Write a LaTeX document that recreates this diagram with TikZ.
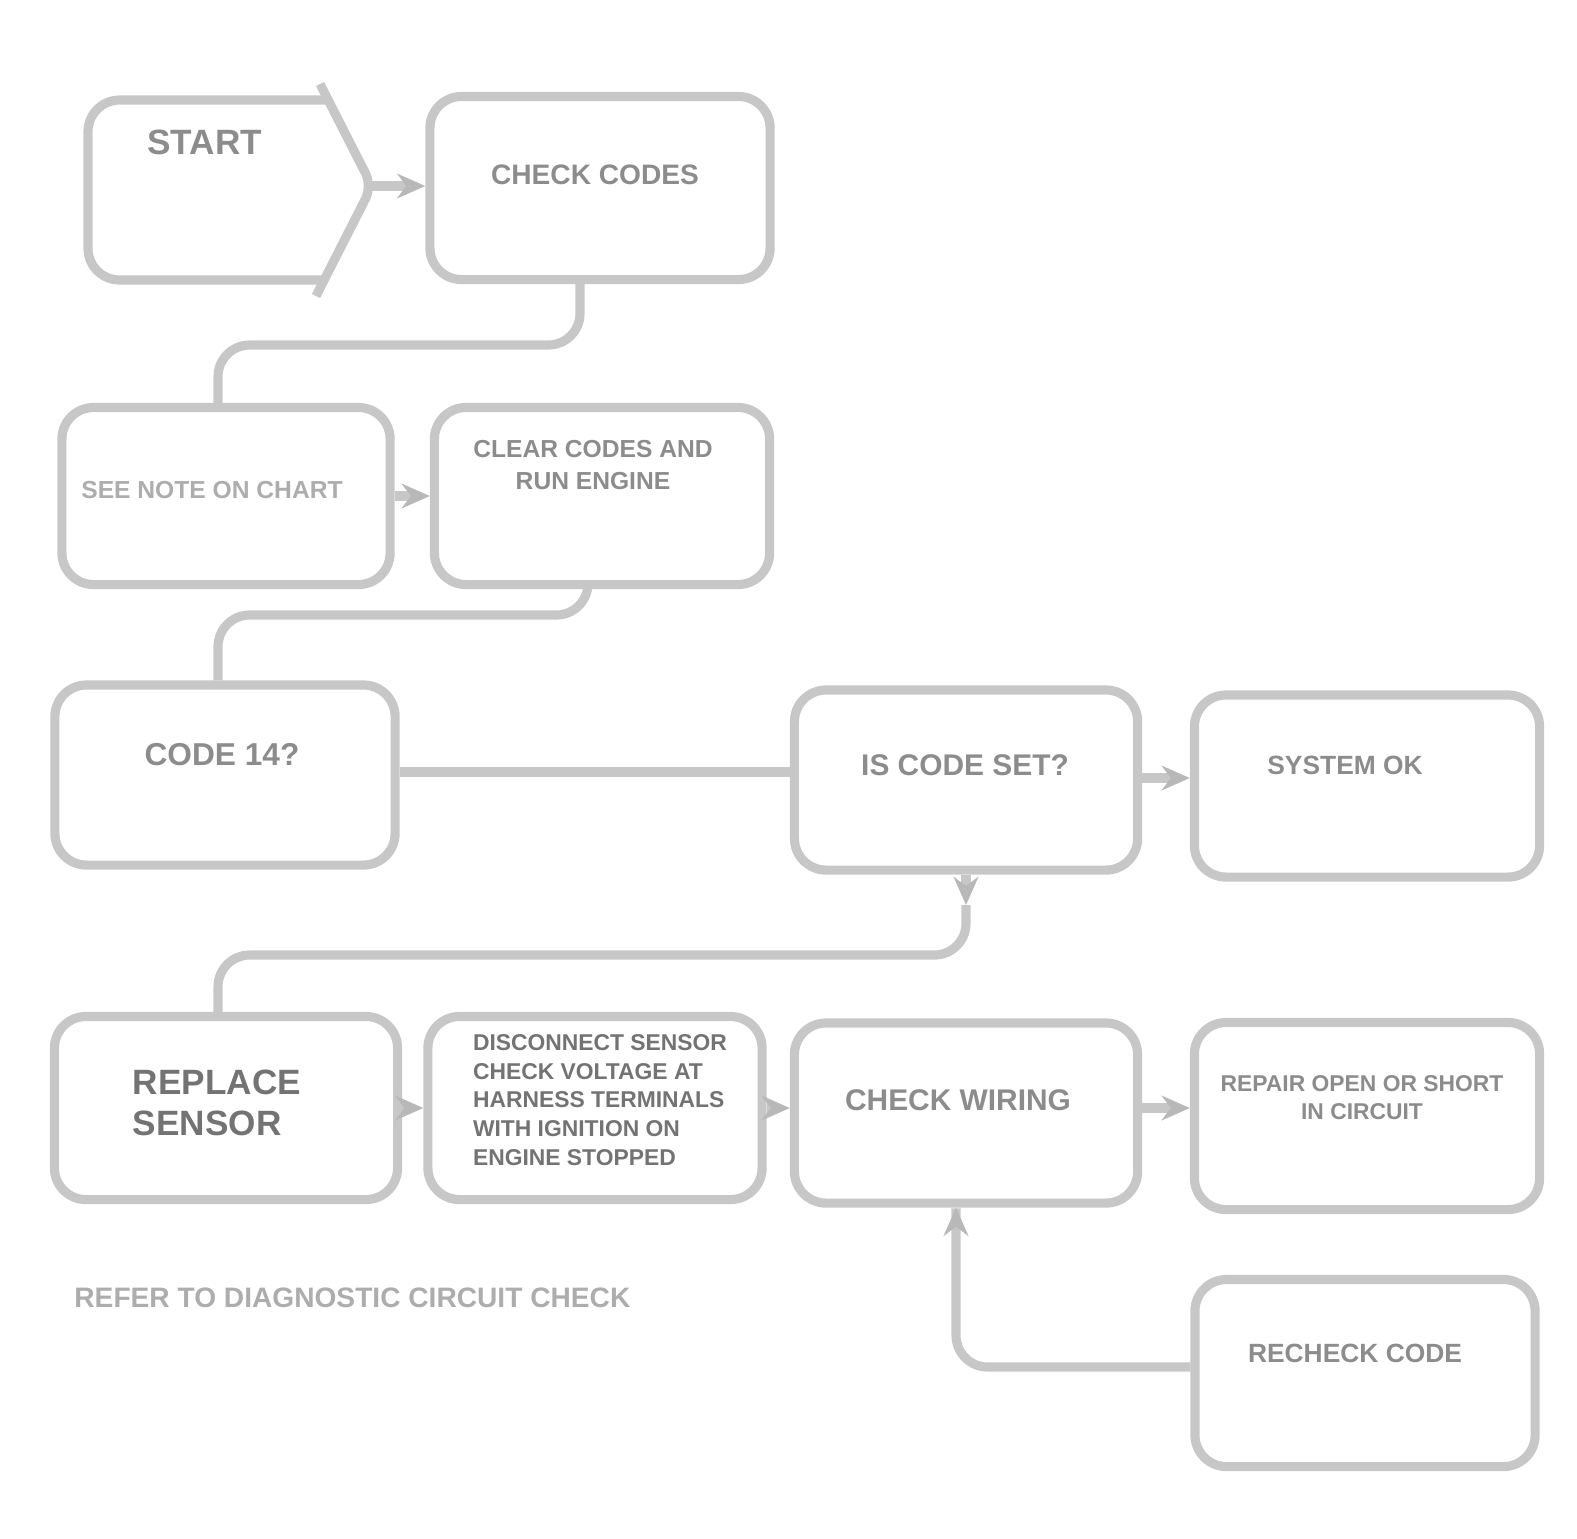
\documentclass[tikz,border=0pt]{standalone}
\usepackage{fontspec}
\setmainfont{Liberation Sans}
\usetikzlibrary{arrows.meta}
\begin{document}
\begin{tikzpicture}[x=0.01cm,y=-0.01cm,
  box/.style={draw=black!22, line width=2.6pt, rounded corners=9pt, inner sep=0pt, minimum width=#1},
  box/.default=3.4cm,
  wire/.style={draw=black!22, line width=2.6pt},
  tip/.style={wire, -{Stealth[length=8pt,width=7pt,black!28]}},
  lbl/.style={text=black!45, font=\bfseries\fontsize{9}{11}\selectfont, align=center},
  dark/.style={text=black!55, font=\bfseries\fontsize{10.5}{12.5}\selectfont, align=left},
  faint/.style={text=black!32, font=\bfseries\fontsize{7}{9}\selectfont}]
\useasboundingbox (0,0) rectangle (1577,1538);
% boxes
\node[inner sep=0pt, minimum width=2.4cm, minimum height=1.8cm] (start) at (210,190) {};
\draw[wire, rounded corners=9pt] (327,100) -- (88,100) -- (88,280) -- (323,280);
\draw[wire, rounded corners=4pt] (320,84) -- (372,186) -- (316,296);
\coordinate (apex) at (372,186);
\node[box=3.4cm, minimum height=1.83cm] (b2) at (600,188) {};
\node[box=3.28cm, minimum height=1.77cm] (r2a) at (226,496) {};
\node[box=3.35cm, minimum height=1.77cm] (r2b) at (602,496) {};
\node[box=3.4cm, minimum height=1.8cm] (r3a) at (225,775) {};
\node[box=3.43cm, minimum height=1.8cm] (r3b) at (966,780) {};
\node[box=3.45cm, minimum height=1.82cm] (r3c) at (1367,786) {};
\node[box=3.43cm, minimum height=1.83cm] (r4a) at (226,1108) {};
\node[box=3.34cm, minimum height=1.83cm] (r4b) at (595,1108) {};
\node[box=3.43cm, minimum height=1.8cm] (r4c) at (966,1113) {};
\node[box=3.45cm, minimum height=1.87cm] (r4d) at (1367,1116) {};
\node[box=3.4cm, minimum height=1.87cm] (r5) at (1365,1373) {};
% labels
\node[lbl, anchor=west, font=\bfseries\fontsize{10}{12}\selectfont] (t1) at (135,142) {START};
\node[lbl, font=\bfseries\fontsize{8}{10}\selectfont] (t2) at (595,175) {CHECK CODES};
\node[faint] (t3) at (212,490) {SEE NOTE ON CHART};
\node[lbl, font=\bfseries\fontsize{7}{9}\selectfont] (t4) at (593,465) {CLEAR CODES AND\\RUN ENGINE};
\node[lbl, font=\bfseries\fontsize{9}{11}\selectfont] (t5) at (222,755) {CODE 14?};
\node[lbl, font=\bfseries\fontsize{8.5}{10}\selectfont] (t6) at (965,765) {IS CODE SET?};
\node[lbl, font=\bfseries\fontsize{7.5}{9}\selectfont] (t7) at (1345,765) {SYSTEM OK};
\node[dark, font=\bfseries\fontsize{10}{11.5}\selectfont] (t8) at (217,1103) {REPLACE\\SENSOR};
\node[dark, font=\bfseries\fontsize{6.5}{8.2}\selectfont] (t9) at (600,1100) {DISCONNECT SENSOR\\CHECK VOLTAGE AT\\HARNESS TERMINALS\\WITH IGNITION ON\\ENGINE STOPPED};
\node[lbl, font=\bfseries\fontsize{8.5}{10}\selectfont] (t10) at (958,1100) {CHECK WIRING};
\node[lbl, font=\bfseries\fontsize{6.5}{8}\selectfont] (t11) at (1362,1098) {REPAIR OPEN OR SHORT\\IN CIRCUIT};
\node[lbl, font=\bfseries\fontsize{7.5}{9}\selectfont] (t12) at (1355,1353) {RECHECK CODE};
\node[faint, anchor=west, font=\bfseries\fontsize{8}{10}\selectfont] (cap) at (62,1298) {REFER TO DIAGNOSTIC CIRCUIT CHECK};
% connectors
\draw[tip] (apex) -- (b2.west |- apex);
\draw[wire, rounded corners=9pt] (b2.south -| 580,0) -- (580,345) -- (218,345) -- (r2a.north -| 218,0);
\draw[tip] (r2a.east) -- (r2b.west);
\draw[wire, rounded corners=9pt] (r2b.south -| 588,0) -- (588,615) -- (218,615) -- (r3a.north -| 218,0);
\draw[wire] (r3a.east |- 0,772) -- (r3b.west |- 0,772);
\draw[tip] (r3b.east |- 0,778) -- (r3c.west |- 0,778);
\coordinate (m1) at (966,905);
\draw[tip] (r3b.south) -- (m1);
\draw[wire, rounded corners=9pt] (m1) -- (966,955) -- (218,955) -- (r4a.north -| 218,0);
\draw[tip] (r4a.east) -- (r4b.west);
\draw[tip] (r4b.east |- 0,1108) -- (r4c.west |- 0,1108);
\draw[tip] (r4c.east |- 0,1108) -- (r4d.west |- 0,1108);
\draw[tip, rounded corners=9pt] (r5.west |- 0,1367) -- (956,1367) -- (956,1240) -- (r4c.south -| 956,0);
\end{tikzpicture}
\end{document}
